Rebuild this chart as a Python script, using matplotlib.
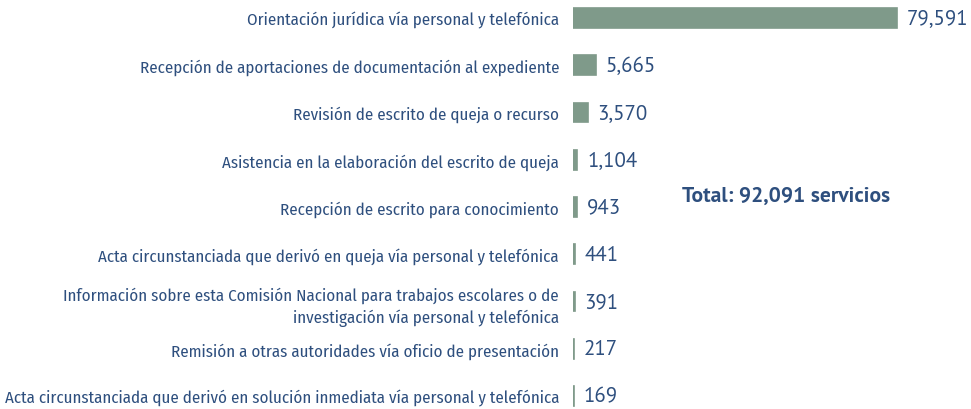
import matplotlib.pyplot as plt
from matplotlib import font_manager

# Datos del gráfico
categorias = [
    "Orientación jurídica vía personal y telefónica",
    "Recepción de aportaciones de documentación al expediente",
    "Revisión de escrito de queja o recurso",
    "Asistencia en la elaboración del escrito de queja",
    "Recepción de escrito para conocimiento",
    "Acta circunstanciada que derivó en queja vía personal y telefónica",
    "Información sobre esta Comisión Nacional para trabajos escolares o de\ninvestigación vía personal y telefónica",
    "Remisión a otras autoridades vía oficio de presentación",
    "Acta circunstanciada que derivó en solución inmediata vía personal y telefónica",
]
valores = [79591, 5665, 3570, 1104, 943, 441, 391, 217, 169]
total_texto = "Total: 92,091 servicios"

color_barra = "#7f9a8a"
color_texto = "#2e4f7e"

nombres = {f.name for f in font_manager.fontManager.ttflist}


def elegir(*opciones):
    for o in opciones:
        if o in nombres:
            return o
    return "DejaVu Sans"


fuente_etiquetas = elegir("Fira Sans Condensed", "PT Sans Narrow", "Roboto Condensed")
fuente_numeros = elegir("PT Sans", "Open Sans")

fig = plt.figure(figsize=(9.71, 4.10), dpi=100)
ax = fig.add_axes([573 / 971, 0, 398 / 971, 1])

posiciones = list(range(len(valores)))
ax.barh(posiciones, valores, height=0.42, color=color_barra,
        edgecolor=color_barra, linewidth=1.2)

ax.set_xlim(0, 79591 * 398 / 324)
ax.set_ylim((410 - 19) / 47.25, -19 / 47.25)

ax.set_yticks(posiciones)
ax.set_yticklabels(categorias, fontsize=12.2, color=color_texto,
                   family=fuente_etiquetas, ha="right", linespacing=1.4)
ax.tick_params(axis="y", length=0, pad=10)
ax.set_xticks([])
for s in ax.spines.values():
    s.set_visible(False)

# Etiquetas de valor
for p, v in zip(posiciones, valores):
    ax.annotate(f"{v:,}", xy=(v, p), xytext=(7, 0), textcoords="offset points",
                va="center", ha="left", fontsize=15, color=color_texto,
                family=fuente_numeros)

ax.text(52300, (196 - 19) / 47.25, total_texto, fontsize=15.5, fontweight="bold",
        color=color_texto, family=fuente_numeros, ha="center", va="center")

fig.savefig("out.png", dpi=100)
